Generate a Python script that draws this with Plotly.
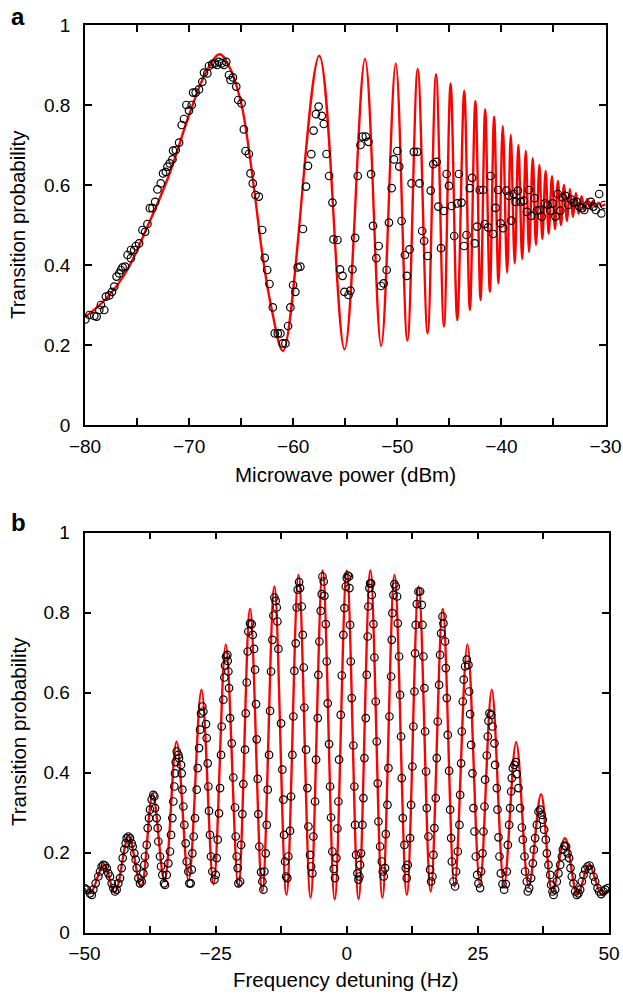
import plotly.graph_objects as go

# ---------------- Panel a data ----------------
a_fit_x = [-80, -78, -76, -74, -72, -70, -68.5, -67.07, -66, -65, -64.58, -63.78, -62.98, -62.1, -60.97,
           -57.5, -55.07, -53.1, -51.55, -50.15, -49.03, -48.04, -47.09, -46.28, -45.52, -44.88, -44.24,
           -43.57, -43.03, -42.5, -42.0, -41.56, -41.11, -40.7, -40.28, -39.87, -39.45, -39.1, -38.72,
           -38.37, -38.0, -37.66, -37.34, -36.99, -36.68, -36.35, -36.07, -35.75, -35.46, -35.14, -34.85,
           -34.57, -34.28, -33.99, -33.70, -33.42, -33.13, -32.84, -32.59, -32.30, -32.01, -31.76, -31.47,
           -31.21, -30.93, -30.67, -30.41, -30]
a_fit_y = [0.27, 0.315, 0.385, 0.496, 0.62, 0.775, 0.875, 0.927, 0.888, 0.805, 0.746, 0.596, 0.43, 0.294, 0.185,
           0.923, 0.189, 0.915, 0.198, 0.904, 0.211, 0.89, 0.229, 0.877, 0.246, 0.854, 0.2625,
           0.836, 0.2875, 0.81, 0.3125, 0.789, 0.333, 0.771, 0.354, 0.7475, 0.381, 0.725, 0.404,
           0.70, 0.415, 0.685, 0.433, 0.667, 0.45, 0.65, 0.465, 0.635, 0.478, 0.622, 0.49,
           0.61, 0.50, 0.60, 0.51, 0.59, 0.52, 0.58, 0.528, 0.572, 0.535, 0.565, 0.54,
           0.56, 0.545, 0.556, 0.548, 0.552]

a_pts_x = [-79.97, -79.58, -79.11, -78.88, -78.63, -78.47, -78.15, -77.99, -77.67, -77.41, -77.19, -76.97,
           -76.71, -76.55, -76.39, -76.14, -75.91, -75.59, -75.59, -75.27, -75.11, -74.80, -74.48, -74.22,
           -74.0, -73.77, -73.52, -73.26, -73.04, -72.72, -72.50, -72.24, -72.08, -71.86, -71.60, -71.54,
           -71.28, -70.96, -70.71, -70.49, -70.26, -70.01, -69.75, -69.62, -69.37, -69.05, -68.73, -68.57,
           -68.25, -68.09, -67.77, -67.52, -67.29, -67.13, -66.88, -66.65, -66.43, -66.17, -66.02, -65.79,
           -65.47, -65.28, -64.96, -64.74, -64.58, -64.26, -64.10, -63.88, -63.62,
           -63.30, -62.98, -62.73, -62.50, -62.28, -61.96, -61.77, -61.48, -61.23, -61.0, -60.75, -60.49,
           -60.27, -60.01, -59.79, -59.57, -59.31, -59.06, -58.77, -58.58, -58.26, -58.04, -57.82, -57.56,
           -57.25, -57.06, -56.80, -56.55, -56.23, -56.13, -55.75, -55.50, -55.26, -55.08, -54.69, -54.50,
           -54.31, -54.05, -53.80, -53.54, -53.35, -53.03, -52.77, -52.52, -52.33, -52.01, -51.79, -51.57,
           -51.31, -51.02, -50.80, -50.54, -50.32, -50.0, -49.81, -49.59, -49.27, -49.08, -48.82, -48.63,
           -48.41, -48.09, -47.87, -47.61, -47.42,
           -47.08, -46.79, -46.54, -46.22, -46.06, -45.80, -45.52, -45.26, -45.04, -44.78, -44.53, -44.24,
           -44.08, -43.83, -43.58, -43.35, -43.03, -42.81, -42.55, -42.33, -42.08, -41.76, -41.60, -41.28,
           -41.03, -40.80, -40.55, -40.32, -40.07, -39.84, -39.52, -39.27, -39.05, -38.79, -38.63, -38.41,
           -38.15, -37.84, -37.55, -37.36, -37.14, -36.82, -36.59, -36.34, -36.12, -35.80, -35.55, -35.29,
           -35.07, -34.81, -34.59, -34.34, -34.11, -33.86, -33.57, -33.32, -33.06, -32.77, -32.52, -32.27,
           -32.04, -31.72, -31.40, -31.15, -30.93, -30.61, -30.39, -30.13]
a_pts_y = [0.264, 0.275, 0.2725, 0.271, 0.2875, 0.30, 0.2875, 0.321, 0.324, 0.333, 0.346, 0.371,
           0.379, 0.3875, 0.394, 0.396, 0.425, 0.417, 0.4375, 0.4375, 0.4475, 0.454, 0.4875, 0.483,
           0.5025, 0.542, 0.542, 0.558, 0.589, 0.604, 0.629, 0.633, 0.646, 0.654, 0.664, 0.686,
           0.6875, 0.706, 0.75, 0.765, 0.80, 0.786, 0.80, 0.831, 0.831, 0.839, 0.858, 0.881,
           0.879, 0.8975, 0.902, 0.904, 0.90, 0.908, 0.904, 0.90, 0.908, 0.875, 0.8625, 0.869,
           0.846, 0.8125, 0.804, 0.739, 0.685, 0.6775, 0.629, 0.604, 0.575,
           0.571, 0.4875, 0.418, 0.3875, 0.3525, 0.294, 0.229, 0.229, 0.229, 0.204, 0.204, 0.2475,
           0.294, 0.35, 0.333, 0.394, 0.396, 0.49, 0.596, 0.648, 0.677, 0.736, 0.777, 0.796,
           0.773, 0.7525, 0.6775, 0.6225, 0.556, 0.464, 0.4625, 0.389, 0.373, 0.333, 0.325, 0.336,
           0.389, 0.468, 0.6225, 0.70, 0.721, 0.721, 0.708, 0.627, 0.498, 0.417, 0.4475, 0.3475,
           0.354, 0.3875, 0.506, 0.592, 0.664, 0.685, 0.646, 0.51, 0.425, 0.373, 0.439, 0.604,
           0.683, 0.683, 0.604, 0.485, 0.46,
           0.4225, 0.586, 0.652, 0.658, 0.546, 0.442, 0.535, 0.6275, 0.598, 0.5475, 0.4725, 0.554,
           0.6275, 0.556, 0.4475, 0.475, 0.592, 0.618, 0.454, 0.496, 0.5875, 0.5875, 0.5025, 0.494,
           0.6225, 0.4775, 0.543, 0.5875, 0.504, 0.492, 0.586, 0.573, 0.511, 0.5775, 0.558, 0.586,
           0.558, 0.561, 0.533, 0.5875, 0.523, 0.567, 0.536, 0.5375, 0.521, 0.554, 0.55, 0.536,
           0.554, 0.521, 0.5775, 0.536, 0.569, 0.573, 0.55, 0.564, 0.556, 0.558, 0.546, 0.542,
           0.5375, 0.55, 0.558, 0.546, 0.5375, 0.5775, 0.529, 0.55]

# ---------------- Panel b data ----------------
b_fit_x = [-50, -48.9, -46.3, -44.2, -41.6, -39.2, -37.0, -34.75, -32.45, -30.15, -27.7, -25.4, -23.07,
           -20.66, -18.44, -16.1, -13.8, -11.5, -9.2, -6.9, -4.6, -2.3, 0, 2.25, 4.5, 6.8, 9.1, 11.45,
           13.7, 16.0, 18.3, 20.55, 23.0, 25.4, 27.65, 30.0, 32.3, 34.7, 37.05, 39.2, 41.6, 44.0, 46.2,
           48.6, 50]
b_fit_y = [0.11, 0.098, 0.169, 0.10, 0.24, 0.115, 0.347, 0.128, 0.477, 0.13, 0.607, 0.12, 0.72,
           0.115, 0.809, 0.1025, 0.865, 0.094, 0.894, 0.0875, 0.905, 0.083, 0.905, 0.083, 0.905, 0.0875, 0.894, 0.094,
           0.865, 0.1025, 0.809, 0.115, 0.72, 0.12, 0.607, 0.12, 0.476, 0.115, 0.346, 0.10, 0.236, 0.095, 0.169,
           0.094, 0.107]

b_pts_x = [-50.0, -49.59, -48.95, -48.63, -48.32, -47.87, -47.36, -47.04, -46.73, -46.41, -46.09, -45.77,
           -45.45, -45.14, -44.82, -44.50, -44.18, -43.87, -43.55, -43.23, -42.91, -42.72, -42.40, -42.15,
           -41.96, -41.64, -41.32, -41.0, -40.81, -40.50, -40.24, -40.05, -39.73, -39.41, -39.10, -38.78,
           -38.59, -38.46, -38.14, -37.95, -37.70, -37.51, -37.19, -36.87, -36.68, -36.55, -36.24, -36.05,
           -35.92, -35.60, -35.41, -35.16, -34.84, -34.65, -34.33, -34.01, -33.70, -33.50, -33.25, -33.06,
           -32.87, -32.74, -32.61, -32.42, -32.10, -31.98, -31.60, -31.47, -31.34, -31.15, -30.96, -30.71,
           -30.52, -30.20, -30.01, -29.75, -29.56, -29.43, -29.18, -28.93, -28.61, -28.42, -28.16, -27.97,
           -27.78, -27.53, -27.34,
           -26.83, -26.70, -26.51, -26.38, -26.26, -26.07, -25.88, -25.62, -25.24, -24.99, -24.79, -24.60,
           -24.35, -24.16, -23.97, -23.84, -23.52, -23.33, -23.21, -23.01, -22.76, -22.70, -22.57, -22.44,
           -22.25, -21.93, -21.62, -21.30, -21.17, -20.98, -20.79, -20.66, -20.34, -20.15, -19.90, -19.71,
           -19.39, -19.26, -19.07, -18.88, -18.76, -18.44, -18.12, -17.93, -17.67, -17.48, -17.29, -17.17,
           -16.98, -16.85, -16.66, -16.34, -16.09, -15.89, -15.70, -15.45, -15.26, -15.07, -14.81, -14.62,
           -14.43, -14.18, -13.99, -13.80, -13.54, -13.35, -13.22, -13.03, -12.53, -12.27, -12.08, -11.95,
           -11.76, -11.57, -11.32, -11.13, -10.81, -10.62, -10.36, -10.17, -9.98, -9.73, -9.54, -9.35,
           -9.09, -8.90, -8.58, -8.39, -8.20, -8.08, -7.76, -7.50, -7.31, -6.99, -6.80, -6.55,
           -6.36, -6.04, -5.85, -5.53, -5.41, -5.21, -4.96, -4.77, -4.64, -4.39, -4.26, -4.01,
           -3.82, -3.63, -3.37, -3.18, -2.99, -2.74, -2.48, -2.23, -1.97, -1.78,
           -1.59, -1.46, -1.14, -0.95, -0.64, -0.44, -0.19, 0.0, 0.19, 0.445, 0.51, 0.64,
           0.76, 0.95, 1.27, 1.46, 1.59, 1.78, 2.03, 2.22, 2.42, 2.54, 2.73, 2.99,
           3.18, 3.37, 3.62, 3.81, 4.0, 4.13, 4.32, 4.45, 4.64, 4.77, 5.09, 5.28,
           5.53, 5.72, 5.91, 6.04, 6.36, 6.68, 6.87, 7.06, 7.31, 7.44, 7.76, 7.95,
           8.14, 8.46, 8.58, 8.71, 8.90, 9.09, 9.35, 9.60, 9.73, 9.98, 10.17, 10.36,
           10.49, 10.68, 11.0, 11.25, 11.44, 11.63, 12.08, 12.27, 12.52, 12.71, 12.91, 13.03,
           13.16, 13.35, 13.67, 13.99, 14.30, 14.43, 14.62, 14.81, 14.94, 15.13, 15.26, 15.58,
           15.89, 16.08, 16.34, 16.53, 16.72, 16.97, 17.16, 17.35, 17.61, 17.80, 17.99, 18.25,
           18.44, 18.75, 18.88, 19.07, 19.26, 19.52, 19.71, 19.90, 20.03, 20.34, 20.66, 20.85,
           21.17, 21.49, 21.62, 21.81, 21.93, 22.12, 22.31, 22.57, 22.89, 23.20, 23.33,
           23.52, 23.71, 23.97, 24.16, 24.35, 24.60, 24.86, 25.11, 25.43, 25.62, 25.88, 26.07,
           26.26, 26.38, 26.70, 26.89, 27.02, 27.21, 27.53, 27.78, 28.16, 28.29, 28.61, 28.74,
           28.93, 29.12, 29.37, 29.69, 30.01, 30.33, 30.52, 30.71, 30.96, 31.15, 31.34, 31.47,
           31.66, 31.98, 32.23, 32.42, 32.74, 33.06, 33.38, 33.57, 33.89, 34.01, 34.33, 34.52,
           34.78, 35.16, 35.48, 35.67, 35.92, 36.24, 36.56, 36.87, 37.19, 37.38, 37.64, 37.95,
           38.15, 38.46, 38.78, 38.97, 39.23, 39.42, 39.73, 40.05, 40.37, 40.69, 41.01, 41.20,
           41.51, 41.83, 42.09, 42.40, 42.66, 42.91, 43.23, 43.55, 43.87, 44.18, 44.50, 44.82,
           45.14, 45.46, 45.90, 46.28, 46.60, 47.05, 47.36, 47.81, 48.13, 48.51, 48.95, 49.27, 49.78]
b_pts_y = [0.111, 0.107, 0.098, 0.094, 0.107, 0.123, 0.14, 0.1525, 0.165, 0.169, 0.1675, 0.161,
           0.148, 0.14, 0.123, 0.111, 0.1025, 0.107, 0.123, 0.136, 0.161, 0.186, 0.207, 0.223,
           0.236, 0.24, 0.236, 0.223, 0.215, 0.198, 0.182, 0.161, 0.136, 0.123, 0.1275, 0.148,
           0.169, 0.19, 0.219, 0.261, 0.286, 0.307, 0.332, 0.344, 0.34, 0.311, 0.286, 0.261,
           0.2275, 0.19, 0.165, 0.144, 0.123, 0.119, 0.144, 0.173, 0.2025, 0.244, 0.286, 0.3275,
           0.365, 0.398, 0.426, 0.4525, 0.444, 0.436, 0.419, 0.398, 0.357, 0.315, 0.269, 0.223,
           0.1775, 0.1525, 0.123, 0.123, 0.157, 0.198, 0.24, 0.286, 0.357, 0.411, 0.461, 0.507,
           0.548, 0.565, 0.5525,
           0.521, 0.486, 0.423, 0.365, 0.304, 0.244, 0.19, 0.1525, 0.132, 0.144, 0.186, 0.232,
           0.298, 0.361, 0.444, 0.515, 0.582, 0.6375, 0.6675, 0.69, 0.694, 0.679, 0.6525, 0.611,
           0.536, 0.473, 0.3875, 0.3125, 0.24, 0.19, 0.161, 0.123, 0.1275, 0.219, 0.296, 0.371,
           0.457, 0.548, 0.625, 0.7025, 0.7525, 0.773, 0.771, 0.744, 0.709, 0.657, 0.571, 0.483,
           0.384, 0.296, 0.215, 0.151, 0.1275, 0.107, 0.1525, 0.198, 0.269, 0.357, 0.444, 0.554,
           0.6525, 0.7317, 0.7925, 0.8375, 0.829, 0.8125, 0.7775, 0.709, 0.523, 0.407, 0.332, 0.244,
           0.1775, 0.14, 0.136, 0.19, 0.254, 0.34, 0.444, 0.54, 0.654, 0.723, 0.8125, 0.857,
           0.876, 0.861, 0.815, 0.744, 0.6625, 0.5625, 0.457, 0.361, 0.265, 0.194, 0.165, 0.148,
           0.24, 0.3275, 0.432, 0.536, 0.644, 0.7275, 0.804, 0.846, 0.89, 0.8775, 0.8417, 0.771,
           0.6775, 0.573, 0.471, 0.365, 0.2875, 0.2025, 0.159, 0.136, 0.186, 0.26,
           0.3275, 0.432, 0.544, 0.6425, 0.744, 0.811, 0.865, 0.886, 0.8925, 0.89, 0.861, 0.769,
           0.6775, 0.586, 0.4675, 0.365, 0.269, 0.194, 0.148, 0.132, 0.14, 0.169, 0.198, 0.269,
           0.336, 0.436, 0.536, 0.644, 0.74, 0.815, 0.861, 0.873, 0.873, 0.844, 0.771, 0.6875,
           0.5775, 0.4775, 0.373, 0.2775, 0.215, 0.1775, 0.1525, 0.14, 0.161, 0.246, 0.319, 0.411,
           0.54, 0.64, 0.7317, 0.7983, 0.844, 0.871, 0.865, 0.84, 0.773, 0.69, 0.594, 0.49,
           0.386, 0.286, 0.219, 0.161, 0.136, 0.169, 0.236, 0.319, 0.415, 0.515, 0.6025, 0.698,
           0.769, 0.821, 0.8525, 0.8525, 0.819, 0.769, 0.69, 0.611, 0.5025, 0.4025, 0.311, 0.24,
           0.157, 0.1275, 0.14, 0.194, 0.261, 0.336, 0.436, 0.5275, 0.619, 0.694, 0.748, 0.79,
           0.773, 0.7275, 0.661, 0.586, 0.494, 0.404, 0.307, 0.236, 0.1775, 0.1275, 0.115, 0.1525,
           0.2025, 0.269, 0.344, 0.423, 0.5025, 0.5775, 0.632, 0.665, 0.682, 0.669, 0.6025,
           0.546, 0.469, 0.398, 0.311, 0.2525, 0.19, 0.144, 0.123, 0.111, 0.1525, 0.198, 0.2525,
           0.315, 0.382, 0.4425, 0.49, 0.529, 0.548, 0.544, 0.515, 0.473, 0.419, 0.361, 0.307,
           0.238, 0.19, 0.148, 0.121, 0.107, 0.121, 0.1525, 0.219, 0.269, 0.311, 0.3525, 0.386,
           0.411, 0.419, 0.426, 0.396, 0.361, 0.311, 0.2625, 0.232, 0.19, 0.1525, 0.1275, 0.1025,
           0.111, 0.136, 0.173, 0.207, 0.236, 0.269, 0.3025, 0.307, 0.294, 0.282, 0.257, 0.232,
           0.198, 0.169, 0.144, 0.119, 0.1025, 0.094, 0.107, 0.1275, 0.148, 0.169, 0.19, 0.207,
           0.217, 0.215, 0.198, 0.186, 0.161, 0.14, 0.123, 0.1025, 0.094, 0.098, 0.107, 0.1275,
           0.144, 0.157, 0.165, 0.1675, 0.157, 0.14, 0.1275, 0.111, 0.1025, 0.096, 0.1025, 0.107, 0.111]

y_ticks = [0, 0.2, 0.4, 0.6, 0.8, 1]
a_x_ticks = [-80, -70, -60, -50, -40, -30]
b_x_ticks = [-50, -25, 0, 25, 50]

RED = "#ff0000"
FONT = "Liberation Sans, Arial, Helvetica, sans-serif"
W, H = 623, 994

fig = go.Figure()
fig.add_trace(go.Scatter(x=a_fit_x, y=a_fit_y, mode="lines", line=dict(color=RED, width=2.4, shape="spline", smoothing=1.0),
                         xaxis="x", yaxis="y", showlegend=False))
fig.add_trace(go.Scatter(x=a_pts_x, y=a_pts_y, mode="markers",
                         marker=dict(symbol="circle-open", size=7.5, color="black", line=dict(width=1.2, color="black")),
                         xaxis="x", yaxis="y", showlegend=False))
fig.add_trace(go.Scatter(x=b_fit_x, y=b_fit_y, mode="lines", line=dict(color=RED, width=2.4, shape="spline", smoothing=1.0),
                         xaxis="x2", yaxis="y2", showlegend=False))
fig.add_trace(go.Scatter(x=b_pts_x, y=b_pts_y, mode="markers",
                         marker=dict(symbol="circle-open", size=7.5, color="black", line=dict(width=1.2, color="black")),
                         xaxis="x2", yaxis="y2", showlegend=False))

axis_common = dict(showline=True, linecolor="black", linewidth=1.5, mirror="ticks", ticks="inside",
                   ticklen=7, tickwidth=1.5, tickcolor="black", showgrid=False, zeroline=False,
                   automargin=False,
                   tickfont=dict(family=FONT, size=19, color="black"))

# plot-area pixel boxes -> paper fractions
a_l, a_r, a_t, a_b = 85, 605.5, 25, 425
b_l, b_r, b_t, b_b = 84.5, 609, 532.5, 932.5

def fx(px):
    return px / W

def fy(py):
    return 1 - py / H

title_font = dict(family=FONT, size=20.5, color="black")

fig.update_layout(
    width=W, height=H,
    margin=dict(l=0, r=0, t=0, b=0),
    paper_bgcolor="white", plot_bgcolor="white",
    font=dict(family=FONT, color="black"),
    xaxis=dict(domain=[fx(a_l), fx(a_r)], range=[-80, -30], tickvals=a_x_ticks, anchor="y",
               ticklabelstandoff=3,
               minor=dict(dtick=5, ticks="inside", ticklen=7, tickwidth=1.5, tickcolor="black"),
               **axis_common),
    yaxis=dict(domain=[fy(a_b), fy(a_t)], range=[0, 1], tickvals=y_ticks, anchor="x",
               ticklabelstandoff=9,
               **axis_common),
    xaxis2=dict(domain=[fx(b_l), fx(b_r)], range=[-50, 50], tickvals=b_x_ticks, anchor="y2",
                ticklabelstandoff=3,
                minor=dict(dtick=12.5, ticks="inside", ticklen=7, tickwidth=1.5, tickcolor="black"),
                **axis_common),
    yaxis2=dict(domain=[fy(b_b), fy(b_t)], range=[0, 1], tickvals=y_ticks, anchor="x2",
                ticklabelstandoff=9,
                **axis_common),
    annotations=[
        dict(text="<b>a</b>", x=fx(9), y=fy(17), xref="paper", yref="paper", showarrow=False,
             font=dict(size=24, family=FONT), xanchor="left", yanchor="middle"),
        dict(text="<b>b</b>", x=fx(9), y=fy(522), xref="paper", yref="paper", showarrow=False,
             font=dict(size=24, family=FONT), xanchor="left", yanchor="middle"),
        dict(text="Microwave power (dBm)", x=fx(345), y=fy(475), xref="paper", yref="paper",
             showarrow=False, font=title_font, xanchor="center", yanchor="middle"),
        dict(text="Frequency detuning (Hz)", x=fx(346), y=fy(979), xref="paper", yref="paper",
             showarrow=False, font=title_font, xanchor="center", yanchor="middle"),
        dict(text="Transition probability", x=fx(18), y=fy(225), xref="paper", yref="paper",
             showarrow=False, font=title_font, textangle=-90, xanchor="center", yanchor="middle"),
        dict(text="Transition probability", x=fx(18), y=fy(732), xref="paper", yref="paper",
             showarrow=False, font=title_font, textangle=-90, xanchor="center", yanchor="middle"),
    ],
)

fig.write_html("out.html", config={"displayModeBar": False},
               post_script="document.body.style.margin='0';document.body.style.overflow='hidden';")
